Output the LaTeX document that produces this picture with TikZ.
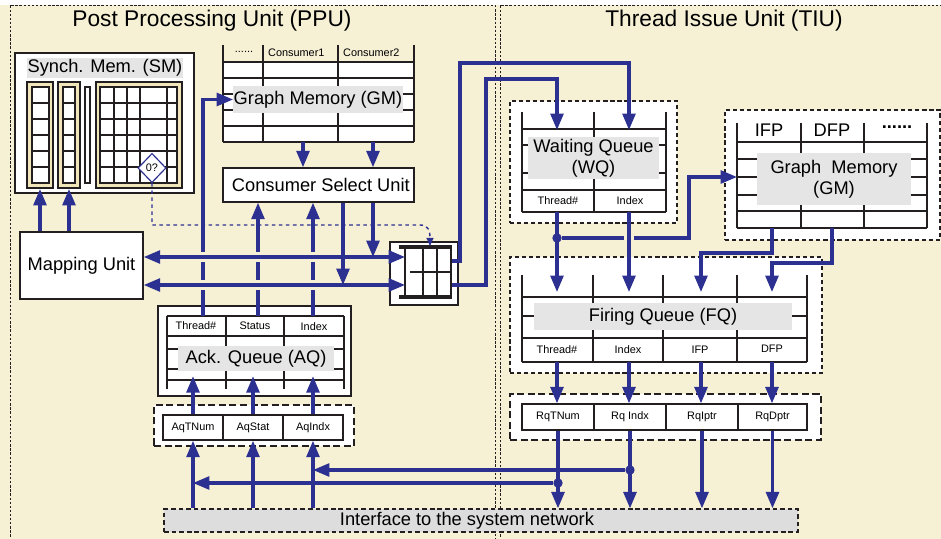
\documentclass[tikz,border=0pt]{standalone}
\usepackage{fontspec}
\setmainfont{Liberation Sans}
\usetikzlibrary{arrows.meta,fit,shapes.geometric}

\definecolor{bgcream}{RGB}{246,240,213}
\definecolor{colcream}{RGB}{241,230,185}
\definecolor{lblgray}{RGB}{229,229,229}
\definecolor{netgray}{RGB}{221,221,221}
\definecolor{linkblue}{RGB}{44,48,145}
\definecolor{ink}{RGB}{35,31,32}

\begin{document}
\begin{tikzpicture}[x=0.03cm,y=-0.03cm,
    >={Triangle[length=14pt,width=11pt]},
    unitframe/.style={draw=ink,line width=0.7pt,dash pattern=on 2pt off 1.5pt},
    box/.style={draw=ink,line width=1.3pt,fill=white,inner sep=0pt},
    dbox/.style={draw=ink,line width=1.1pt,dash pattern=on 3.5pt off 2.5pt,fill=white,inner sep=0pt},
    regbox/.style={draw=ink,line width=1.3pt,dash pattern=on 6pt off 3pt,fill=white,inner sep=0pt},
    cell/.style={draw=ink,line width=1.1pt},
    lbl/.style={fill=lblgray,inner sep=0pt,align=center,font=\fontsize{15.6}{18}\selectfont},
    big/.style={font=\fontsize{15.6}{18}\selectfont},
    small/.style={font=\fontsize{9.3}{11}\selectfont},
    title/.style={font=\fontsize{19.4}{22}\selectfont},
    link/.style={draw=linkblue,line width=2.6pt,->},
    jump/.style={preaction={-,draw=bgcream,line width=8pt,#1}},
    jump/.default={shorten <=20pt,shorten >=20pt},
    joint/.style={circle,fill=linkblue,inner sep=0pt,minimum size=8pt}
  ]
\useasboundingbox (0,0) rectangle (941,539);
\fill[bgcream] (0,5) rectangle (941,539);
\draw[unitframe] (10,545) -- (10,5) -- (495,5) -- (495,545);
\draw[unitframe] (500,545) -- (500,5) -- (950,5);
\node[title] (ppu) at (212,21) {Post Processing Unit (PPU)};
\node[title] (tiu) at (724,21) {Thread Issue Unit\ (TIU)};

% Synch. memory
\node[box,fit={(15,53) (194,193)}] (sm) {};
\node[lbl,minimum width=132.7pt,minimum height=17pt] (smlbl) at (105,68) {Synch. Mem. (SM)};
\foreach \xa/\xb in {27/53,58/80,96/182}
  \draw[cell,fill=colcream] (\xa,82) rectangle (\xb,188);
\foreach \xa/\xb in {32/49,63/75,100/177}
  \draw[cell,fill=white] (\xa,87) rectangle (\xb,183);
\draw[cell,fill=white] (85,87) rectangle (90,183);
\foreach \y in {103,119,135,151,167}
  \draw[cell] (32,\y) -- (49,\y) (63,\y) -- (75,\y) (100,\y) -- (177,\y);
\foreach \x in {114,127,140,167}
  \draw[cell] (\x,87) -- (\x,183);
\node[diamond,draw=linkblue,fill=white,line width=1pt,inner sep=0pt,minimum width=24pt,minimum height=25pt,small] (zero) at (152,168) {0?};

\node[box,fit={(20,232) (143,299)},label={[big]center:Mapping Unit}] (map) {};

% graph memory (PPU)
\node[fit={(223,62) (414,142)},fill=white,inner sep=0pt] (gm) {};
\foreach \x in {223,263,338,414} \draw[cell] (\x,45) -- (\x,142);
\foreach \y in {62,78,94,110,126,142} \draw[cell] (223,\y) -- (414,\y);
\node[small,anchor=base] (gmh0) at (244,53) {......};
\node[small,anchor=west] (gmh1) at (264,53) {Consumer1};
\node[small,anchor=west] (gmh2) at (339,53) {Consumer2};
\node[lbl,minimum width=144.6pt,minimum height=23pt] (gml) at (318,99.5) {Graph Memory (GM)};

\node[box,fit={(223,168) (414,202)},label={[big,xshift=2pt]center:Consumer Select Unit}] (csu) {};

% crossbar
\node[box,fit={(390,242) (458,305)}] (xbar) {};
\draw[ink,line width=2.6pt] (399,247) -- (452,247) (399,297) -- (452,297);
\foreach \x in {405,423,437,451} \draw[cell] (\x,247) -- (\x,297);
\draw[cell] (410,272) -- (451,272);

% ack queue
\node[box,fit={(158,306) (351,396)}] (aq) {};
\foreach \x in {167,226,284,344} \draw[cell] (\x,316) -- (\x,389);
\foreach \y in {316,336,349,369,380} \draw[cell] (167,\y) -- (344,\y);
\node[small] (aqh1) at (196,326) {Thread\#};
\node[small] (aqh2) at (255,326) {Status};
\node[small] (aqh3) at (314,327) {Index};
\node[lbl,minimum width=132.7pt,minimum height=21.3pt] (aql) at (256,358.5) {Ack. Queue (AQ)};

\node[regbox,fit={(154,405) (354,446)}] (aqr) {};
\node[box,small,minimum width=51pt,minimum height=21.3pt] (aqr1) at (193,427.5) {AqTNum};
\node[box,small,minimum width=51pt,minimum height=21.3pt] (aqr2) at (253,427.5) {AqStat};
\node[box,small,minimum width=51pt,minimum height=21.3pt] (aqr3) at (313,427.5) {AqIndx};

% waiting queue
\node[dbox,fit={(510,101) (677,223)}] (wq) {};
\foreach \x in {522,594,666} \draw[cell] (\x,112) -- (\x,212);
\foreach \y in {129,145,173,190,212} \draw[cell] (522,\y) -- (666,\y);
\node[small] (wqh1) at (558,201) {Thread\#};
\node[small] (wqh2) at (630,201) {Index};
\node[lbl,minimum width=111.4pt,minimum height=35.7pt] (wql) at (593.5,158) {Waiting Queue\\(WQ)};

% graph memory (TIU)
\node[dbox,fit={(725,110) (940,240)}] (gmr) {};
\foreach \x in {737,801,864,927} \draw[cell] (\x,123) -- (\x,228);
\foreach \y in {142,159,177,195,211,228} \draw[cell] (737,\y) -- (927,\y);
\node[big,anchor=base] (gmrh1) at (769,137) {IFP};
\node[big,anchor=base] (gmrh2) at (832,137) {DFP};
\node[big,anchor=base] (gmrh3) at (897,129) {\textbf{......}};
\node[lbl,minimum width=131pt,minimum height=44.2pt] (gmrl) at (834,179) {Graph\ \ Memory\\(GM)};

% firing queue
\node[dbox,fit={(510,257) (822,373)}] (fq) {};
\foreach \x in {522,593,663,737,807} \draw[cell] (\x,275) -- (\x,362);
\foreach \y in {297,316,338,362} \draw[cell] (522,\y) -- (807,\y);
\node[small] (fqh1) at (557,350) {Thread\#};
\node[small] (fqh2) at (628,350) {Index};
\node[small] (fqh3) at (700,350) {IFP};
\node[small] (fqh4) at (772,349) {DFP};
\node[lbl,minimum width=221pt,minimum height=23pt] (fql) at (663,316.5) {Firing Queue (FQ)};

\node[regbox,fit={(510,394) (821,440)}] (rq) {};
\node[box,small,minimum width=61.2pt,minimum height=22pt] (rq1) at (558,417) {RqTNum};
\node[box,small,minimum width=61.2pt,minimum height=22pt] (rq2) at (630,417) {Rq\ Indx};
\node[box,small,minimum width=61.2pt,minimum height=22pt] (rq3) at (702,417) {RqIptr};
\node[box,small,minimum width=58.7pt,minimum height=22pt] (rq4) at (772.5,417) {RqDptr};

\node[fit={(164,509) (798,532)},fill=netgray,draw=ink,line width=1.1pt,dash pattern=on 4pt off 2.5pt,inner sep=0pt,label={[big,xshift=-12pt]center:Interface to the system network}] (net) {};

% PPU connections
\coordinate (smc1) at (40,189);
\coordinate (smc2) at (69,189);
\draw[link] (map.north -| smc1) -- (smc1);
\draw[link] (map.north -| smc2) -- (smc2);
\coordinate (aqt) at (203,316);
\coordinate (aqs) at (258,316);
\coordinate (aqi) at (313,316);
\draw[link] (aqt) |- (gml.west);
\draw[link] (aqs) -- (csu.south -| aqs);
\draw[link] (aqi) -- (csu.south -| aqi);
\coordinate (gmo1) at (303,142);
\coordinate (gmo2) at (373,142);
\draw[link] (gmo1) -- (gmo1 |- csu.north);
\draw[link] (gmo2) -- (gmo2 |- csu.north);
\coordinate (xin0) at (430,246);
\draw[linkblue,line width=1.2pt,dashed,-{Triangle[length=7pt,width=6pt]}] (zero.south) |- (420,225) .. controls (428,225) and (430,230) .. (xin0);
\coordinate (xin1) at (405,257);
\coordinate (xin2) at (405,285);
\draw[link,<->,jump] (map.east |- xin1) -- (xin1);
\draw[link,<->,jump] (map.east |- xin2) -- (xin2);
\coordinate (csd1) at (343,285);
\coordinate (csd2) at (373,257);
\draw[link] (csu.south -| csd1) -- (csd1);
\draw[link] (csu.south -| csd2) -- (csd2);

% crossbar to TIU
\coordinate (xout1) at (452,261);
\coordinate (xout2) at (452,285);
\coordinate (wqi1) at (557,130);
\coordinate (wqi2) at (629,130);
\draw[link] (xout1) -| (460,63) -| (wqi2);
\draw[link] (xout2) -| (486,79) -| (wqi1);

% TIU connections
\coordinate (wqo1) at (557,212);
\coordinate (wqo2) at (629,212);
\coordinate (fqi1) at (557,292);
\coordinate (fqi2) at (629,292);
\coordinate (fqi3) at (701,292);
\coordinate (fqi4) at (772,292);
\coordinate (gmrin) at (737,177);
\node[joint] (j1) at (557,238) {};
\draw[link] (wqo1) -- (fqi1);
\draw[link] (j1) -- (689,238) |- (gmrin);
\draw[link,jump={shorten <=14pt,shorten >=36pt}] (wqo2) -- (fqi2);
\coordinate (gmro1) at (772,228);
\coordinate (gmro2) at (832,228);
\draw[link] (gmro1) -- (772,253) -| (fqi3);
\draw[link] (gmro2) -- (832,263) -| (fqi4);
\foreach \i in {1,...,4} {
  \draw[link] (fqi\i |- 0,362) -- (fqi\i |- rq\i.north);
  \draw[link] (rq\i.south) -- (rq\i.south |- net.north);
}
\node[joint] (j2) at (630,470) {};
\node[joint] (j3) at (558,483) {};
\draw[link] (j2) -- (j2 -| aqr3);
\draw[link] (j3) -- (j3 -| aqr1);
\foreach \i in {1,2,3} {
  \draw[link] (net.north -| aqr\i) -- (aqr\i.south);
  \draw[link] (aqr\i.north) -- ++(0,-38);
}
\end{tikzpicture}
\end{document}
